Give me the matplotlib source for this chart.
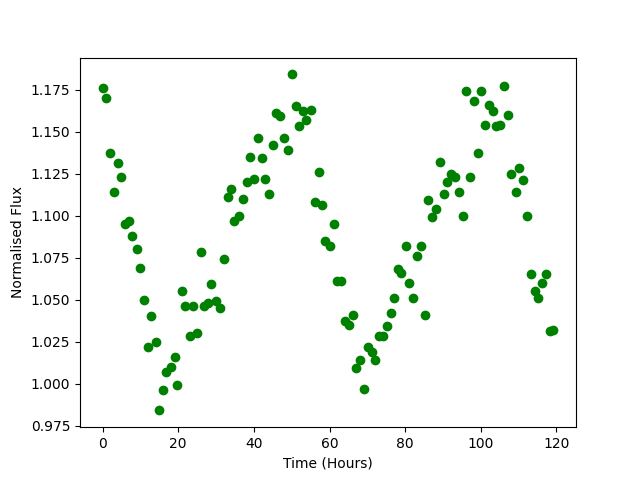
import matplotlib
matplotlib.use('Agg')
import matplotlib.pyplot as plt

time = [0.0, 0.8, 1.85, 2.9, 3.97, 4.76, 5.9, 6.97, 7.9, 9.0,
        9.8, 10.85, 11.9, 12.9, 14.0, 14.8, 16.0, 16.9, 18.1, 19.05,
        19.8, 20.9, 21.9, 23.0, 23.9, 24.9, 25.9, 26.9, 28.0, 28.8,
        29.97, 31.0, 32.0, 33.1, 33.9, 34.8, 36.0, 37.0, 38.1, 38.9,
        40.0, 41.1, 42.1, 42.9, 43.9, 45.0, 45.9, 47.0, 48.0, 49.0,
        50.1, 51.1, 52.0, 52.9, 53.9, 55.0, 56.1, 57.1, 58.0, 58.9,
        60.0, 61.1, 61.9, 63.1, 64.1, 65.1, 66.1, 66.9, 68.0, 69.0,
        70.1, 71.2, 72.1, 73.0, 74.1, 75.1, 76.2, 77.1, 78.0, 79.0,
        80.1, 80.9, 82.0, 83.0, 84.1, 85.2, 86.0, 87.0, 88.1, 89.2,
        90.2, 91.0, 92.1, 93.2, 94.2, 95.2, 96.1, 97.2, 98.2, 99.3,
        100.1, 101.2, 102.2, 103.1, 104.1, 105.2, 106.1, 107.2, 108.1, 109.3,
        110.1, 111.2, 112.2, 113.2, 114.2, 115.1, 116.2, 117.2, 118.3, 119.2]

flux = [1.176, 1.170, 1.137, 1.114, 1.131, 1.123, 1.095, 1.097, 1.088, 1.080,
        1.069, 1.050, 1.022, 1.040, 1.025, 0.984, 0.996, 1.007, 1.010, 1.016,
        0.999, 1.055, 1.046, 1.028, 1.046, 1.030, 1.078, 1.046, 1.048, 1.059,
        1.049, 1.045, 1.074, 1.111, 1.116, 1.097, 1.100, 1.110, 1.120, 1.135,
        1.122, 1.146, 1.134, 1.122, 1.113, 1.142, 1.161, 1.159, 1.146, 1.139,
        1.184, 1.165, 1.153, 1.162, 1.157, 1.163, 1.108, 1.126, 1.106, 1.085,
        1.082, 1.095, 1.061, 1.061, 1.037, 1.035, 1.041, 1.009, 1.014, 0.997,
        1.022, 1.019, 1.014, 1.028, 1.028, 1.034, 1.042, 1.051, 1.068, 1.066,
        1.082, 1.060, 1.051, 1.076, 1.082, 1.041, 1.109, 1.099, 1.104, 1.132,
        1.113, 1.120, 1.125, 1.123, 1.114, 1.100, 1.174, 1.123, 1.168, 1.137,
        1.174, 1.154, 1.166, 1.162, 1.153, 1.154, 1.177, 1.160, 1.125, 1.114,
        1.128, 1.121, 1.100, 1.065, 1.055, 1.051, 1.060, 1.065, 1.031, 1.032]

fig, ax = plt.subplots(figsize=(6.4, 4.8), dpi=100)

ax.plot(time, flux, 'o', color='green')
ax.set_xlabel('Time (Hours)')
ax.set_ylabel('Normalised Flux')

fig.savefig('out.png')
